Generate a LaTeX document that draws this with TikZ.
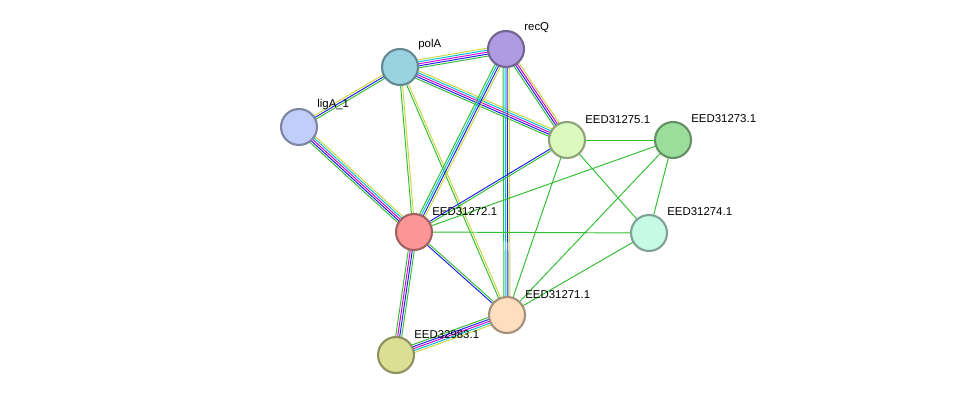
\documentclass[tikz,border=0pt]{standalone}
\usepackage{fontspec}
\setsansfont{Liberation Sans}
\usetikzlibrary{calc}
\definecolor{sgreen}{RGB}{50,190,50}
\definecolor{syellow}{RGB}{200,215,60}
\definecolor{sblue}{RGB}{30,30,240}
\definecolor{smag}{RGB}{210,0,210}
\definecolor{scyan}{RGB}{0,190,220}
\definecolor{cpolA}{RGB}{153,211,224}
\definecolor{crecQ}{RGB}{175,155,225}
\definecolor{cligA}{RGB}{192,206,250}
\definecolor{c75}{RGB}{218,250,190}
\definecolor{c73}{RGB}{155,221,155}
\definecolor{c72}{RGB}{252,150,150}
\definecolor{c74}{RGB}{196,250,230}
\definecolor{c71}{RGB}{254,222,190}
\definecolor{c83}{RGB}{218,223,148}
\newcommand{\stredge}[4]{% from, to, count, colours
  \foreach \c [count=\i] in {#4} {
    \pgfmathsetmacro{\off}{(\i-(#3+1)/2)*0.04}
    \draw[\c, line width=0.55pt] ($(#1)!\off cm!90:(#2)$) -- ($(#2)!\off cm!-90:(#1)$);
  }}
\begin{document}
\begin{tikzpicture}[x=0.02cm,y=-0.02cm]
\tikzset{prot/.style={circle, minimum size=0.72cm, inner sep=0pt, line width=1.2pt,
    fill=#1, draw=#1!65!black},
  lbl/.style={font=\sffamily\fontsize{6.5}{7}\selectfont, anchor=south west, inner sep=0pt}}
\useasboundingbox (0,0) rectangle (976,401);

\coordinate (polA) at (400,67);
\coordinate (recQ) at (506,49);
\coordinate (ligA) at (299,127);
\coordinate (p75) at (567,140);
\coordinate (p73) at (673,140);
\coordinate (p72) at (414,232);
\coordinate (p74) at (649,233);
\coordinate (p71) at (507,315);
\coordinate (p83) at (396,355);

% edges
\stredge{polA}{recQ}{5}{sgreen,sblue,smag,scyan,syellow}
\stredge{polA}{ligA}{3}{syellow,sblue,sgreen}
\stredge{polA}{p75}{5}{sgreen,sblue,smag,scyan,syellow}
\stredge{polA}{p72}{2}{sgreen,syellow}
\stredge{polA}{p71}{2}{sgreen,syellow}
\stredge{recQ}{p75}{4}{sgreen,sblue,smag,syellow}
\stredge{recQ}{p72}{4}{sgreen,scyan,sblue,syellow}
\stredge{recQ}{p71}{4}{sgreen,scyan,sblue,syellow}
\stredge{ligA}{p72}{5}{sgreen,sblue,smag,scyan,syellow}
\stredge{p75}{p72}{2}{sblue,sgreen}
\stredge{p75}{p73}{1}{sgreen}
\stredge{p75}{p74}{1}{sgreen}
\stredge{p75}{p71}{1}{sgreen}
\stredge{p73}{p72}{1}{sgreen}
\stredge{p73}{p74}{1}{sgreen}
\stredge{p73}{p71}{1}{sgreen}
\stredge{p72}{p74}{1}{sgreen}
\stredge{p72}{p71}{2}{sblue,sgreen}
\stredge{p72}{p83}{4}{sgreen,smag,sblue,sgreen}
\stredge{p71}{p83}{5}{sgreen,sblue,smag,scyan,syellow}
\stredge{p74}{p71}{1}{sgreen}

% proteins
\node[prot=cpolA] (npolA) at (polA) {};
\node[prot=crecQ] (nrecQ) at (recQ) {};
\node[prot=cligA] (nligA) at (ligA) {};
\node[prot=c75] (n75) at (p75) {};
\node[prot=c73] (n73) at (p73) {};
\node[prot=c72] (n72) at (p72) {};
\node[prot=c74] (n74) at (p74) {};
\node[prot=c71] (n71) at (p71) {};
\node[prot=c83] (n83) at (p83) {};

% labels
\node[lbl] (lpolA) at (418,50) {polA};
\node[lbl] (lrecQ) at (524,33) {recQ};
\node[lbl] (lligA) at (317,110) {ligA\_1};
\node[lbl] (l75) at (585,124) {EED31275.1};
\node[lbl] (l73) at (691,123) {EED31273.1};
\node[lbl] (l72) at (432,216) {EED31272.1};
\node[lbl] (l74) at (667,216) {EED31274.1};
\node[lbl] (l71) at (525,299) {EED31271.1};
\node[lbl] (l83) at (414,339) {EED32983.1};
\end{tikzpicture}
\end{document}
